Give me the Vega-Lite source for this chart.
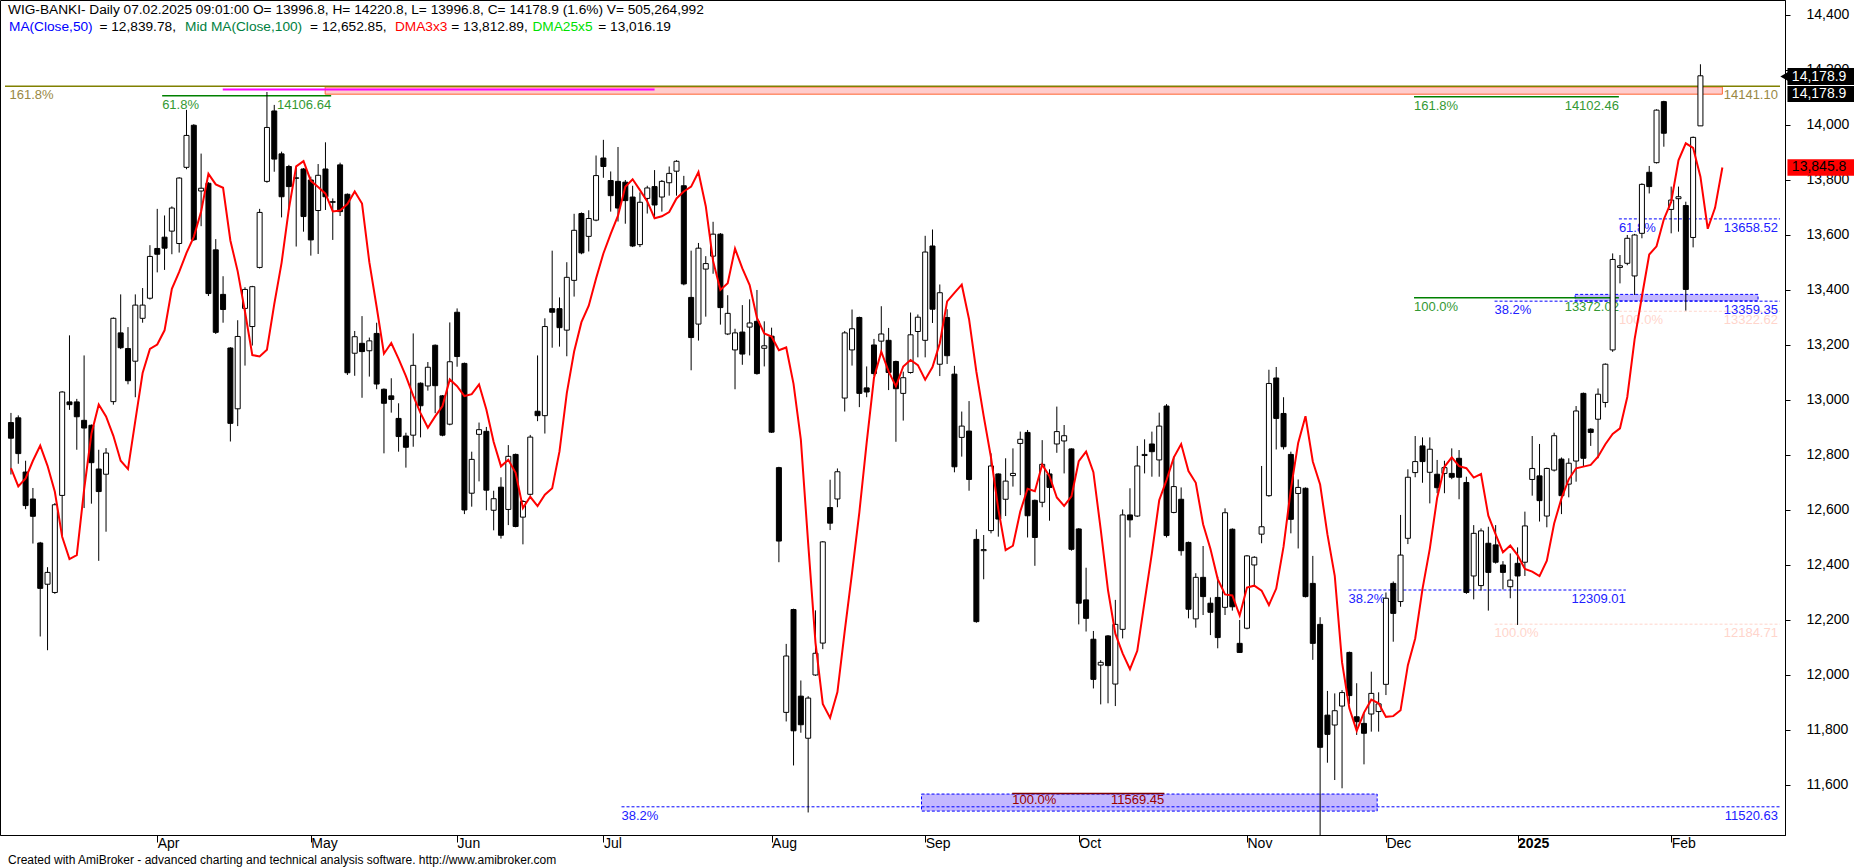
{
"$schema": "https://vega.github.io/schema/vega-lite/v6.json",
"width": 1785, "height": 835,
"autosize": {"type": "none"},
"padding": {"left": 0, "top": 0, "right": 69, "bottom": 33},
"background": "white",
"config": {
 "view": {"stroke": "#000000", "strokeWidth": 1},
 "font": "Liberation Sans",
 "text": {"font": "Liberation Sans", "fontSize": 13},
 "axis": {"labelFont": "Liberation Sans", "labelFontSize": 14, "labelColor": "#000000", "domainColor": "#000000", "tickColor": "#000000", "grid": false}
},
"datasets": {
"bars": [
{"i":0,"o":12918,"h":12953,"l":12729,"c":12861},
{"i":1,"o":12935,"h":12944,"l":12768,"c":12805},
{"i":2,"o":12738,"h":12779,"l":12603,"c":12616},
{"i":3,"o":12640,"h":12680,"l":12478,"c":12577},
{"i":4,"o":12480,"h":12484,"l":12140,"c":12315},
{"i":5,"o":12330,"h":12392,"l":12090,"c":12373},
{"i":6,"o":12300,"h":12625,"l":12295,"c":12619},
{"i":7,"o":12653,"h":13032,"l":12508,"c":13029},
{"i":8,"o":12993,"h":13235,"l":12964,"c":12983},
{"i":9,"o":12993,"h":13004,"l":12819,"c":12939},
{"i":10,"o":12926,"h":13162,"l":12607,"c":12898},
{"i":11,"o":12908,"h":12911,"l":12623,"c":12772},
{"i":12,"o":12749,"h":12819,"l":12415,"c":12667},
{"i":13,"o":12730,"h":12825,"l":12521,"c":12807},
{"i":14,"o":12994,"h":13300,"l":12983,"c":13297},
{"i":15,"o":13244,"h":13384,"l":13185,"c":13190},
{"i":16,"o":13187,"h":13265,"l":13057,"c":13070},
{"i":17,"o":13141,"h":13384,"l":13010,"c":13345},
{"i":18,"o":13297,"h":13407,"l":13281,"c":13345},
{"i":19,"o":13370,"h":13563,"l":13365,"c":13522},
{"i":20,"o":13551,"h":13695,"l":13464,"c":13530},
{"i":21,"o":13592,"h":13671,"l":13473,"c":13552},
{"i":22,"o":13614,"h":13704,"l":13530,"c":13698},
{"i":23,"o":13569,"h":13810,"l":13536,"c":13807},
{"i":24,"o":13846,"h":14055,"l":13839,"c":13962},
{"i":25,"o":13999,"h":14003,"l":13578,"c":13583},
{"i":26,"o":13760,"h":13896,"l":13632,"c":13770},
{"i":27,"o":13788,"h":13792,"l":13378,"c":13387},
{"i":28,"o":13546,"h":13585,"l":13240,"c":13246},
{"i":29,"o":13384,"h":13450,"l":13281,"c":13329},
{"i":30,"o":13189,"h":13192,"l":12849,"c":12915},
{"i":31,"o":12968,"h":13290,"l":12905,"c":13231},
{"i":32,"o":13333,"h":13410,"l":13125,"c":13402},
{"i":33,"o":13267,"h":13415,"l":13198,"c":13412},
{"i":34,"o":13482,"h":13695,"l":13478,"c":13682},
{"i":35,"o":13795,"h":14120,"l":13790,"c":13991},
{"i":36,"o":14051,"h":14073,"l":13830,"c":13876},
{"i":37,"o":13895,"h":13903,"l":13664,"c":13739},
{"i":38,"o":13849,"h":13855,"l":13691,"c":13776},
{"i":39,"o":13806,"h":13849,"l":13558,"c":13808},
{"i":40,"o":13840,"h":13843,"l":13612,"c":13667},
{"i":41,"o":13800,"h":13812,"l":13525,"c":13582},
{"i":42,"o":13689,"h":13858,"l":13531,"c":13817},
{"i":43,"o":13840,"h":13937,"l":13691,"c":13739},
{"i":44,"o":13721,"h":13733,"l":13582,"c":13719},
{"i":45,"o":13855,"h":13863,"l":13669,"c":13685},
{"i":46,"o":13748,"h":13751,"l":13091,"c":13099},
{"i":47,"o":13170,"h":13251,"l":13088,"c":13230},
{"i":48,"o":13206,"h":13305,"l":13008,"c":13176},
{"i":49,"o":13179,"h":13227,"l":13085,"c":13215},
{"i":50,"o":13242,"h":13281,"l":13039,"c":13058},
{"i":51,"o":13039,"h":13042,"l":12806,"c":12988},
{"i":52,"o":13015,"h":13079,"l":12954,"c":13002},
{"i":53,"o":12933,"h":12988,"l":12812,"c":12867},
{"i":54,"o":12869,"h":12881,"l":12754,"c":12828},
{"i":55,"o":12872,"h":13242,"l":12830,"c":13126},
{"i":56,"o":13061,"h":13064,"l":12864,"c":12979},
{"i":57,"o":13051,"h":13138,"l":13034,"c":13119},
{"i":58,"o":13199,"h":13202,"l":12952,"c":13052},
{"i":59,"o":13015,"h":13018,"l":12868,"c":12872},
{"i":60,"o":12912,"h":13282,"l":12908,"c":13139},
{"i":61,"o":13319,"h":13333,"l":13121,"c":13158},
{"i":62,"o":13133,"h":13136,"l":12585,"c":12600},
{"i":63,"o":12661,"h":12812,"l":12612,"c":12784},
{"i":64,"o":12875,"h":12918,"l":12704,"c":12892},
{"i":65,"o":12886,"h":12902,"l":12599,"c":12672},
{"i":66,"o":12599,"h":12670,"l":12526,"c":12641},
{"i":67,"o":12683,"h":12719,"l":12496,"c":12508},
{"i":68,"o":12602,"h":12836,"l":12545,"c":12795},
{"i":69,"o":12802,"h":12805,"l":12537,"c":12540},
{"i":70,"o":12574,"h":12636,"l":12475,"c":12631},
{"i":71,"o":12657,"h":12873,"l":12652,"c":12865},
{"i":72,"o":12959,"h":13162,"l":12923,"c":12943},
{"i":73,"o":12943,"h":13297,"l":12878,"c":13267},
{"i":74,"o":13332,"h":13543,"l":13190,"c":13319},
{"i":75,"o":13332,"h":13373,"l":13194,"c":13263},
{"i":76,"o":13254,"h":13501,"l":13159,"c":13446},
{"i":77,"o":13435,"h":13677,"l":13376,"c":13617},
{"i":78,"o":13678,"h":13682,"l":13530,"c":13535},
{"i":79,"o":13595,"h":13690,"l":13540,"c":13660},
{"i":80,"o":13654,"h":13889,"l":13650,"c":13816},
{"i":81,"o":13880,"h":13946,"l":13808,"c":13849},
{"i":82,"o":13798,"h":13831,"l":13685,"c":13743},
{"i":83,"o":13795,"h":13920,"l":13649,"c":13698},
{"i":84,"o":13792,"h":13800,"l":13641,"c":13725},
{"i":85,"o":13738,"h":13779,"l":13556,"c":13560},
{"i":86,"o":13565,"h":13755,"l":13556,"c":13719},
{"i":87,"o":13733,"h":13779,"l":13678,"c":13771},
{"i":88,"o":13776,"h":13836,"l":13665,"c":13709},
{"i":89,"o":13738,"h":13800,"l":13685,"c":13795},
{"i":90,"o":13790,"h":13849,"l":13743,"c":13824},
{"i":91,"o":13832,"h":13872,"l":13743,"c":13868},
{"i":92,"o":13779,"h":13815,"l":13417,"c":13422},
{"i":93,"o":13373,"h":13543,"l":13108,"c":13227},
{"i":94,"o":13276,"h":13571,"l":13216,"c":13552},
{"i":95,"o":13476,"h":13523,"l":13303,"c":13496},
{"i":96,"o":13523,"h":13648,"l":13459,"c":13603},
{"i":97,"o":13603,"h":13607,"l":13274,"c":13336},
{"i":98,"o":13240,"h":13381,"l":13236,"c":13315},
{"i":99,"o":13182,"h":13259,"l":13039,"c":13244},
{"i":100,"o":13247,"h":13345,"l":13128,"c":13167},
{"i":101,"o":13265,"h":13366,"l":13162,"c":13280},
{"i":102,"o":13286,"h":13400,"l":13092,"c":13096},
{"i":103,"o":13188,"h":13286,"l":13122,"c":13197},
{"i":104,"o":13232,"h":13263,"l":12880,"c":12883},
{"i":105,"o":12754,"h":12757,"l":12410,"c":12487},
{"i":106,"o":11864,"h":12113,"l":11831,"c":12069},
{"i":107,"o":12238,"h":12241,"l":11671,"c":11797},
{"i":108,"o":11923,"h":11980,"l":11790,"c":11819},
{"i":109,"o":11770,"h":11923,"l":11500,"c":11916},
{"i":110,"o":12000,"h":12235,"l":11997,"c":12079},
{"i":111,"o":12116,"h":12487,"l":12094,"c":12484},
{"i":112,"o":12609,"h":12710,"l":12527,"c":12552},
{"i":113,"o":12640,"h":12751,"l":12610,"c":12739},
{"i":114,"o":13007,"h":13251,"l":12958,"c":13244},
{"i":115,"o":13182,"h":13329,"l":13125,"c":13259},
{"i":116,"o":13300,"h":13303,"l":12974,"c":13024},
{"i":117,"o":13044,"h":13122,"l":13010,"c":13029},
{"i":118,"o":13200,"h":13222,"l":13088,"c":13096},
{"i":119,"o":13214,"h":13341,"l":13170,"c":13240},
{"i":120,"o":13217,"h":13262,"l":13036,"c":13100},
{"i":121,"o":13140,"h":13143,"l":12848,"c":13041},
{"i":122,"o":13024,"h":13103,"l":12925,"c":13081},
{"i":123,"o":13100,"h":13318,"l":13096,"c":13237},
{"i":124,"o":13249,"h":13311,"l":13155,"c":13301},
{"i":125,"o":13217,"h":13597,"l":13155,"c":13538},
{"i":126,"o":13560,"h":13620,"l":13280,"c":13330},
{"i":127,"o":13130,"h":13420,"l":13087,"c":13390},
{"i":128,"o":13300,"h":13330,"l":13131,"c":13161},
{"i":129,"o":13094,"h":13124,"l":12737,"c":12757},
{"i":130,"o":12864,"h":12958,"l":12794,"c":12905},
{"i":131,"o":12887,"h":12996,"l":12670,"c":12711},
{"i":132,"o":12493,"h":12530,"l":12190,"c":12194},
{"i":133,"o":12452,"h":12509,"l":12348,"c":12456},
{"i":134,"o":12525,"h":12806,"l":12515,"c":12760},
{"i":135,"o":12731,"h":12733,"l":12503,"c":12567},
{"i":136,"o":12639,"h":12788,"l":12578,"c":12705},
{"i":137,"o":12725,"h":12824,"l":12685,"c":12733},
{"i":138,"o":12842,"h":12885,"l":12654,"c":12857},
{"i":139,"o":12882,"h":12891,"l":12500,"c":12579},
{"i":140,"o":12635,"h":12638,"l":12397,"c":12500},
{"i":141,"o":12628,"h":12854,"l":12610,"c":12766},
{"i":142,"o":12731,"h":12748,"l":12561,"c":12682},
{"i":143,"o":12840,"h":12976,"l":12808,"c":12885},
{"i":144,"o":12851,"h":12909,"l":12733,"c":12870},
{"i":145,"o":12822,"h":12824,"l":12452,"c":12457},
{"i":146,"o":12531,"h":12534,"l":12184,"c":12261},
{"i":147,"o":12273,"h":12390,"l":12158,"c":12206},
{"i":148,"o":12130,"h":12160,"l":11951,"c":11984},
{"i":149,"o":12036,"h":12054,"l":11893,"c":12046},
{"i":150,"o":12142,"h":12145,"l":11897,"c":12034},
{"i":151,"o":11967,"h":12273,"l":11887,"c":12184},
{"i":152,"o":12166,"h":12602,"l":12133,"c":12582},
{"i":153,"o":12582,"h":12679,"l":12500,"c":12564},
{"i":154,"o":12578,"h":12833,"l":12575,"c":12760},
{"i":155,"o":12798,"h":12857,"l":12733,"c":12802},
{"i":156,"o":12840,"h":12885,"l":12721,"c":12812},
{"i":157,"o":12782,"h":12954,"l":12721,"c":12905},
{"i":158,"o":12978,"h":12985,"l":12500,"c":12507},
{"i":159,"o":12591,"h":12794,"l":12588,"c":12685},
{"i":160,"o":12639,"h":12682,"l":12434,"c":12452},
{"i":161,"o":12482,"h":12485,"l":12206,"c":12239},
{"i":162,"o":12204,"h":12370,"l":12172,"c":12355},
{"i":163,"o":12355,"h":12469,"l":12218,"c":12285},
{"i":164,"o":12261,"h":12282,"l":12145,"c":12228},
{"i":165,"o":12282,"h":12357,"l":12097,"c":12136},
{"i":166,"o":12246,"h":12606,"l":12218,"c":12590},
{"i":167,"o":12530,"h":12533,"l":12234,"c":12248},
{"i":168,"o":12115,"h":12200,"l":12080,"c":12082},
{"i":169,"o":12170,"h":12436,"l":12166,"c":12433},
{"i":170,"o":12400,"h":12432,"l":12327,"c":12428},
{"i":171,"o":12512,"h":12760,"l":12479,"c":12539},
{"i":172,"o":12652,"h":13110,"l":12648,"c":13060},
{"i":173,"o":13080,"h":13120,"l":12820,"c":12933},
{"i":174,"o":12951,"h":13010,"l":12820,"c":12830},
{"i":175,"o":12802,"h":12812,"l":12515,"c":12566},
{"i":176,"o":12660,"h":12711,"l":12460,"c":12682},
{"i":177,"o":12679,"h":12682,"l":12282,"c":12285},
{"i":178,"o":12333,"h":12433,"l":12055,"c":12115},
{"i":179,"o":12184,"h":12210,"l":11418,"c":11737},
{"i":180,"o":11854,"h":11942,"l":11681,"c":11784},
{"i":181,"o":11818,"h":11933,"l":11618,"c":11870},
{"i":182,"o":11887,"h":11945,"l":11588,"c":11936},
{"i":183,"o":12082,"h":12085,"l":11894,"c":11925},
{"i":184,"o":11848,"h":11970,"l":11782,"c":11830},
{"i":185,"o":11824,"h":11861,"l":11675,"c":11788},
{"i":186,"o":11858,"h":12012,"l":11794,"c":11933},
{"i":187,"o":11867,"h":11937,"l":11794,"c":11895},
{"i":188,"o":11966,"h":12300,"l":11927,"c":12279},
{"i":189,"o":12333,"h":12340,"l":12121,"c":12224},
{"i":190,"o":12267,"h":12582,"l":12248,"c":12436},
{"i":191,"o":12497,"h":12748,"l":12476,"c":12719},
{"i":192,"o":12736,"h":12869,"l":12719,"c":12776},
{"i":193,"o":12833,"h":12864,"l":12699,"c":12776},
{"i":194,"o":12737,"h":12864,"l":12624,"c":12821},
{"i":195,"o":12730,"h":12782,"l":12661,"c":12681},
{"i":196,"o":12733,"h":12779,"l":12661,"c":12754},
{"i":197,"o":12733,"h":12824,"l":12712,"c":12719},
{"i":198,"o":12788,"h":12818,"l":12639,"c":12719},
{"i":199,"o":12700,"h":12721,"l":12295,"c":12300},
{"i":200,"o":12360,"h":12545,"l":12275,"c":12515},
{"i":201,"o":12325,"h":12533,"l":12307,"c":12524},
{"i":202,"o":12479,"h":12539,"l":12234,"c":12373},
{"i":203,"o":12473,"h":12545,"l":12405,"c":12410},
{"i":204,"o":12400,"h":12414,"l":12311,"c":12373},
{"i":205,"o":12321,"h":12442,"l":12279,"c":12345},
{"i":206,"o":12406,"h":12464,"l":12182,"c":12360},
{"i":207,"o":12410,"h":12594,"l":12360,"c":12542},
{"i":208,"o":12711,"h":12869,"l":12652,"c":12751},
{"i":209,"o":12724,"h":12840,"l":12558,"c":12634},
{"i":210,"o":12578,"h":12754,"l":12537,"c":12751},
{"i":211,"o":12745,"h":12881,"l":12740,"c":12870},
{"i":212,"o":12785,"h":12791,"l":12585,"c":12652},
{"i":213,"o":12694,"h":12788,"l":12646,"c":12770},
{"i":214,"o":12778,"h":12978,"l":12703,"c":12960},
{"i":215,"o":13024,"h":13027,"l":12757,"c":12788},
{"i":216,"o":12894,"h":12897,"l":12833,"c":12882},
{"i":217,"o":12930,"h":13042,"l":12788,"c":13021},
{"i":218,"o":12991,"h":13133,"l":12973,"c":13130},
{"i":219,"o":13182,"h":13533,"l":13175,"c":13511},
{"i":220,"o":13482,"h":13527,"l":13424,"c":13488},
{"i":221,"o":13497,"h":13600,"l":13490,"c":13588},
{"i":222,"o":13451,"h":13604,"l":13382,"c":13600},
{"i":223,"o":13606,"h":13788,"l":13588,"c":13784},
{"i":224,"o":13828,"h":13851,"l":13751,"c":13776},
{"i":225,"o":13863,"h":14057,"l":13860,"c":14054},
{"i":226,"o":14085,"h":14088,"l":13921,"c":13970},
{"i":227,"o":13693,"h":13776,"l":13606,"c":13727},
{"i":228,"o":13732,"h":13776,"l":13612,"c":13739},
{"i":229,"o":13707,"h":13721,"l":13325,"c":13402},
{"i":230,"o":13591,"h":13958,"l":13555,"c":13955},
{"i":231,"o":13996.8,"h":14220.8,"l":13996.8,"c":14178.9}
],
"dma": [
{"i":0,"v":12752},{"i":1,"v":12686},{"i":2,"v":12715},{"i":3,"v":12779},{"i":4,"v":12834},
{"i":5,"v":12760.7},{"i":6,"v":12666.0},{"i":7,"v":12502.7},{"i":8,"v":12421.7},{"i":9,"v":12435.7},
{"i":10,"v":12673.7},{"i":11,"v":12877.0},{"i":12,"v":12983.7},{"i":13,"v":12940.0},{"i":14,"v":12869.7},
{"i":15,"v":12779.0},{"i":16,"v":12748.7},{"i":17,"v":12923.7},{"i":18,"v":13098.0},{"i":19,"v":13185.7},
{"i":20,"v":13201.7},{"i":21,"v":13253.3},{"i":22,"v":13404.0},{"i":23,"v":13465.7},{"i":24,"v":13534.7},
{"i":25,"v":13593.3},{"i":26,"v":13685.7},{"i":27,"v":13822.3},{"i":28,"v":13784.0},{"i":29,"v":13771.7},
{"i":30,"v":13580.0},{"i":31,"v":13467.7},{"i":32,"v":13320.7},{"i":33,"v":13163.3},{"i":34,"v":13158.3},
{"i":35,"v":13182.7},{"i":36,"v":13348.3},{"i":37,"v":13498.7},{"i":38,"v":13695.0},{"i":39,"v":13849.7},
{"i":40,"v":13868.7},{"i":41,"v":13797.0},{"i":42,"v":13774.3},{"i":43,"v":13750.3},{"i":44,"v":13685.7},
{"i":45,"v":13688.7},{"i":46,"v":13712.7},{"i":47,"v":13758.3},{"i":48,"v":13714.3},{"i":49,"v":13501.0},
{"i":50,"v":13338.0},{"i":51,"v":13168.3},{"i":52,"v":13207.0},{"i":53,"v":13149.7},{"i":54,"v":13087.0},
{"i":55,"v":13016.0},{"i":56,"v":12952.3},{"i":57,"v":12899.0},{"i":58,"v":12940.3},{"i":59,"v":12977.7},
{"i":60,"v":13074.7},{"i":61,"v":13050.0},{"i":62,"v":13014.3},{"i":63,"v":13021.0},{"i":64,"v":13056.3},
{"i":65,"v":12965.7},{"i":66,"v":12847.3},{"i":67,"v":12758.7},{"i":68,"v":12782.7},{"i":69,"v":12735.0},
{"i":70,"v":12607.0},{"i":71,"v":12648.0},{"i":72,"v":12614.3},{"i":73,"v":12655.3},{"i":74,"v":12678.7},
{"i":75,"v":12813.0},{"i":76,"v":13025.0},{"i":77,"v":13176.3},{"i":78,"v":13283.0},{"i":79,"v":13342.7},
{"i":80,"v":13442.0},{"i":81,"v":13532.7},{"i":82,"v":13604.0},{"i":83,"v":13670.3},{"i":84,"v":13775.0},
{"i":85,"v":13802.7},{"i":86,"v":13763.3},{"i":87,"v":13722.0},{"i":88,"v":13661.0},{"i":89,"v":13668.0},
{"i":90,"v":13683.3},{"i":91,"v":13733.0},{"i":92,"v":13758.3},{"i":93,"v":13776.0},{"i":94,"v":13829.0},
{"i":95,"v":13704.7},{"i":96,"v":13505.7},{"i":97,"v":13400.3},{"i":98,"v":13425.0},{"i":99,"v":13550.3},
{"i":100,"v":13478.3},{"i":101,"v":13418.0},{"i":102,"v":13298.3},{"i":103,"v":13242.0},{"i":104,"v":13230.3},
{"i":105,"v":13181.0},{"i":106,"v":13191.0},{"i":107,"v":13058.7},{"i":108,"v":12855.7},{"i":109,"v":12479.7},
{"i":110,"v":12117.7},{"i":111,"v":11895.0},{"i":112,"v":11844.0},{"i":113,"v":11938.0},{"i":114,"v":12159.7},
{"i":115,"v":12371.7},{"i":116,"v":12591.7},{"i":117,"v":12845.0},{"i":118,"v":13080.7},{"i":119,"v":13175.7},
{"i":120,"v":13104.0},{"i":121,"v":13049.7},{"i":122,"v":13121.7},{"i":123,"v":13145.3},{"i":124,"v":13127.0},
{"i":125,"v":13074.0},{"i":126,"v":13119.7},{"i":127,"v":13206.3},{"i":128,"v":13358.7},{"i":129,"v":13389.7},
{"i":130,"v":13419.3},{"i":131,"v":13293.7},{"i":132,"v":13102.7},{"i":133,"v":12941.0},{"i":134,"v":12791.0},
{"i":135,"v":12603.3},{"i":136,"v":12453.7},{"i":137,"v":12470.0},{"i":138,"v":12594.3},{"i":139,"v":12677.3},
{"i":140,"v":12668.3},{"i":141,"v":12765.0},{"i":142,"v":12723.0},{"i":143,"v":12645.3},{"i":144,"v":12615.0},
{"i":145,"v":12649.3},{"i":146,"v":12777.7},{"i":147,"v":12812.3},{"i":148,"v":12737.3},{"i":149,"v":12529.3},
{"i":150,"v":12308.0},{"i":151,"v":12150.3},{"i":152,"v":12078.7},{"i":153,"v":12021.3},{"i":154,"v":12088.0},
{"i":155,"v":12266.7},{"i":156,"v":12443.3},{"i":157,"v":12635.3},{"i":158,"v":12708.7},{"i":159,"v":12791.3},
{"i":160,"v":12839.7},{"i":161,"v":12741.3},{"i":162,"v":12699.0},{"i":163,"v":12548.0},{"i":164,"v":12458.7},
{"i":165,"v":12348.7},{"i":166,"v":12293.0},{"i":167,"v":12289.3},{"i":168,"v":12216.3},{"i":169,"v":12318.0},
{"i":170,"v":12324.7},{"i":171,"v":12306.7},{"i":172,"v":12254.3},{"i":173,"v":12314.3},{"i":174,"v":12466.7},
{"i":175,"v":12675.7},{"i":176,"v":12844.0},{"i":177,"v":12941.0},{"i":178,"v":12776.3},{"i":179,"v":12692.7},
{"i":180,"v":12511.0},{"i":181,"v":12360.7},{"i":182,"v":12045.7},{"i":183,"v":11878.7},{"i":184,"v":11797.0},
{"i":185,"v":11863.3},{"i":186,"v":11910.3},{"i":187,"v":11897.0},{"i":188,"v":11847.7},{"i":189,"v":11850.3},
{"i":190,"v":11872.0},{"i":191,"v":12035.7},{"i":192,"v":12132.7},{"i":193,"v":12313.0},{"i":194,"v":12459.7},
{"i":195,"v":12643.7},{"i":196,"v":12757.0},{"i":197,"v":12791.0},{"i":198,"v":12759.3},{"i":199,"v":12752.0},
{"i":200,"v":12718.0},{"i":201,"v":12730.7},{"i":202,"v":12579.3},{"i":203,"v":12511.3},{"i":204,"v":12446.3},
{"i":205,"v":12470.7},{"i":206,"v":12435.7},{"i":207,"v":12385.3},{"i":208,"v":12376.0},{"i":209,"v":12359.3},
{"i":210,"v":12415.7},{"i":211,"v":12551.0},{"i":212,"v":12642.3},{"i":213,"v":12712.0},{"i":214,"v":12751.7},
{"i":215,"v":12757.7},{"i":216,"v":12764.0},{"i":217,"v":12794.0},{"i":218,"v":12839.3},{"i":219,"v":12876.7},
{"i":220,"v":12897.0},{"i":221,"v":13011.0},{"i":222,"v":13220.7},{"i":223,"v":13376.3},{"i":224,"v":13529.0},
{"i":225,"v":13558.7},{"i":226,"v":13657.3},{"i":227,"v":13720.0},{"i":228,"v":13871.3},{"i":229,"v":13933.3},
{"i":230,"v":13917.0},{"i":231,"v":13812.0},{"i":232,"v":13622.7},{"i":233,"v":13698.7},{"i":234,"v":13845.3}
]
},
"layer": [
{"data": {"name": "bars"},
 "mark": {"type": "rule", "color": "#000000", "strokeWidth": 1, "opacity": 0},
 "encoding": {
  "x": {"field": "i", "type": "quantitative", "scale": {"domain": [-0.816, 241.88], "nice": false, "zero": false},
   "axis": {"orient": "bottom", "title": null, "values": [20,41,61,81,104,125,146,169,188,206,227],
    "labelExpr": "datum.value==20?'Apr':datum.value==41?'May':datum.value==61?'Jun':datum.value==81?'Jul':datum.value==104?'Aug':datum.value==125?'Sep':datum.value==146?'Oct':datum.value==169?'Nov':datum.value==188?'Dec':datum.value==206?'2025':'Feb'",
    "labelAlign": "left", "labelBaseline": "top", "labelPadding": -6, "labelDx": 2, "tickSize": 7,
    "labelFlush": false, "labelOverlap": false, "labelBound": false,
    "labelFontWeight": {"condition": {"test": "datum.value == 206", "value": "bold"}, "value": "normal"}}},
  "y": {"field": "l", "type": "quantitative", "scale": {"domain": [11418.1, 14454.5], "nice": false, "zero": false},
   "axis": {"orient": "right", "title": null, "values": [11600,11800,12000,12200,12400,12600,12800,13000,13200,13400,13600,13800,14000,14200,14400],
    "labelExpr": "format(datum.value, ',.0f')", "tickSize": 5, "labelPadding": 16, "labelAlign": "left", "labelBaseline": "middle", "labelFlush": false, "labelOverlap": false, "labelBound": false}},
  "y2": {"field": "h"}
 }},
{"data": {"values": [{}]}, "mark": {"type": "rect", "fill": "#FFCCCC", "stroke": "#FF6633", "strokeWidth": 1},
 "encoding": {"x": {"datum": 42.96}, "x2": {"datum": 234.0}, "y": {"datum": 14138}, "y2": {"datum": 14112}}},
{"data": {"values": [{}]}, "mark": {"type": "rect", "fill": "#C4B8FF", "stroke": "#0000FF", "strokeWidth": 1, "strokeDash": [3, 2]},
 "encoding": {"x": {"datum": 213.87}, "x2": {"datum": 238.88}, "y": {"datum": 13384}, "y2": {"datum": 13360}}},
{"data": {"values": [{}]}, "mark": {"type": "rect", "fill": "#C4B8FF", "stroke": "#0000FF", "strokeWidth": 1, "strokeDash": [3, 2]},
 "encoding": {"x": {"datum": 124.5}, "x2": {"datum": 186.8}, "y": {"datum": 11567}, "y2": {"datum": 11505}}},
{"data": {"values": [{}]}, "mark": {"type": "rule", "color": "#808000", "strokeWidth": 1.5},
 "encoding": {"x": {"datum": -0.816}, "x2": {"datum": 241.88}, "y": {"datum": 14141.1}}},
{"data": {"values": [{}]}, "mark": {"type": "rule", "color": "#FF00FF", "strokeWidth": 2},
 "encoding": {"x": {"datum": 28.96}, "x2": {"datum": 88.0}, "y": {"datum": 14129}}},
{"data": {"values": [{}]}, "mark": {"type": "rule", "color": "#008000", "strokeWidth": 1.5},
 "encoding": {"x": {"datum": 20.67}, "x2": {"datum": 43.78}, "y": {"datum": 14106.64}}},
{"data": {"values": [{}]}, "mark": {"type": "rule", "color": "#008000", "strokeWidth": 1.5},
 "encoding": {"x": {"datum": 191.84}, "x2": {"datum": 219.85}, "y": {"datum": 14102.46}}},
{"data": {"values": [{}]}, "mark": {"type": "rule", "color": "#008000", "strokeWidth": 1.5},
 "encoding": {"x": {"datum": 191.84}, "x2": {"datum": 219.85}, "y": {"datum": 13372.02}}},
{"data": {"values": [{}]}, "mark": {"type": "rule", "color": "#0000FF", "strokeWidth": 1, "strokeDash": [3, 2]},
 "encoding": {"x": {"datum": 202.85}, "x2": {"datum": 241.88}, "y": {"datum": 13359.35}}},
{"data": {"values": [{}]}, "mark": {"type": "rule", "color": "#0000FF", "strokeWidth": 1, "strokeDash": [3, 2]},
 "encoding": {"x": {"datum": 219.85}, "x2": {"datum": 241.88}, "y": {"datum": 13658.52}}},
{"data": {"values": [{}]}, "mark": {"type": "rule", "color": "#FFD5CC", "strokeWidth": 1, "strokeDash": [3, 2]},
 "encoding": {"x": {"datum": 219.85}, "x2": {"datum": 241.88}, "y": {"datum": 13322.62}}},
{"data": {"values": [{}]}, "mark": {"type": "rule", "color": "#0000FF", "strokeWidth": 1, "strokeDash": [3, 2]},
 "encoding": {"x": {"datum": 182.87}, "x2": {"datum": 220.8}, "y": {"datum": 12309.01}}},
{"data": {"values": [{}]}, "mark": {"type": "rule", "color": "#FFD5CC", "strokeWidth": 1, "strokeDash": [3, 2]},
 "encoding": {"x": {"datum": 202.85}, "x2": {"datum": 241.88}, "y": {"datum": 12184.71}}},
{"data": {"values": [{}]}, "mark": {"type": "rule", "color": "#0000FF", "strokeWidth": 1, "strokeDash": [3, 2]},
 "encoding": {"x": {"datum": 83.48}, "x2": {"datum": 241.88}, "y": {"datum": 11520.63}}},
{"data": {"values": [{}]}, "mark": {"type": "rule", "color": "#800000", "strokeWidth": 1.5},
 "encoding": {"x": {"datum": 136.9}, "x2": {"datum": 157.7}, "y": {"datum": 11569.45}}},
{"data": {"values": [{}]}, "mark": {"type": "text", "text": "161.8%", "color": "#998844", "align": "left", "baseline": "top", "dy": 3},
 "encoding": {"x": {"datum": -0.2}, "y": {"datum": 14141.1}}},
{"data": {"values": [{}]}, "mark": {"type": "text", "text": "14141.10", "color": "#998844", "align": "right", "baseline": "top", "dy": 3},
 "encoding": {"x": {"datum": 241.6}, "y": {"datum": 14141.1}}},
{"data": {"values": [{}]}, "mark": {"type": "text", "text": "61.8%", "color": "#339933", "align": "left", "baseline": "top", "dy": 3},
 "encoding": {"x": {"datum": 20.67}, "y": {"datum": 14106.64}}},
{"data": {"values": [{}]}, "mark": {"type": "text", "text": "14106.64", "color": "#339933", "align": "right", "baseline": "top", "dy": 3},
 "encoding": {"x": {"datum": 43.78}, "y": {"datum": 14106.64}}},
{"data": {"values": [{}]}, "mark": {"type": "text", "text": "161.8%", "color": "#339933", "align": "left", "baseline": "top", "dy": 3},
 "encoding": {"x": {"datum": 191.84}, "y": {"datum": 14102.46}}},
{"data": {"values": [{}]}, "mark": {"type": "text", "text": "14102.46", "color": "#339933", "align": "right", "baseline": "top", "dy": 3},
 "encoding": {"x": {"datum": 219.85}, "y": {"datum": 14102.46}}},
{"data": {"values": [{}]}, "mark": {"type": "text", "text": "100.0%", "color": "#339933", "align": "left", "baseline": "top", "dy": 3},
 "encoding": {"x": {"datum": 191.84}, "y": {"datum": 13372.02}}},
{"data": {"values": [{}]}, "mark": {"type": "text", "text": "13372.02", "color": "#339933", "align": "right", "baseline": "top", "dy": 3},
 "encoding": {"x": {"datum": 219.85}, "y": {"datum": 13372.02}}},
{"data": {"values": [{}]}, "mark": {"type": "text", "text": "38.2%", "color": "#2020FF", "align": "left", "baseline": "top", "dy": 3},
 "encoding": {"x": {"datum": 202.85}, "y": {"datum": 13359.35}}},
{"data": {"values": [{}]}, "mark": {"type": "text", "text": "13359.35", "color": "#2020FF", "align": "right", "baseline": "top", "dy": 3},
 "encoding": {"x": {"datum": 241.6}, "y": {"datum": 13359.35}}},
{"data": {"values": [{}]}, "mark": {"type": "text", "text": "61.8%", "color": "#2020FF", "align": "left", "baseline": "top", "dy": 3},
 "encoding": {"x": {"datum": 219.85}, "y": {"datum": 13658.52}}},
{"data": {"values": [{}]}, "mark": {"type": "text", "text": "13658.52", "color": "#2020FF", "align": "right", "baseline": "top", "dy": 3},
 "encoding": {"x": {"datum": 241.6}, "y": {"datum": 13658.52}}},
{"data": {"values": [{}]}, "mark": {"type": "text", "text": "100.0%", "color": "#FFD5CC", "align": "left", "baseline": "top", "dy": 3},
 "encoding": {"x": {"datum": 219.85}, "y": {"datum": 13322.62}}},
{"data": {"values": [{}]}, "mark": {"type": "text", "text": "13322.62", "color": "#FFD5CC", "align": "right", "baseline": "top", "dy": 3},
 "encoding": {"x": {"datum": 241.6}, "y": {"datum": 13322.62}}},
{"data": {"values": [{}]}, "mark": {"type": "text", "text": "38.2%", "color": "#2020FF", "align": "left", "baseline": "top", "dy": 3},
 "encoding": {"x": {"datum": 182.87}, "y": {"datum": 12309.01}}},
{"data": {"values": [{}]}, "mark": {"type": "text", "text": "12309.01", "color": "#2020FF", "align": "right", "baseline": "top", "dy": 3},
 "encoding": {"x": {"datum": 220.8}, "y": {"datum": 12309.01}}},
{"data": {"values": [{}]}, "mark": {"type": "text", "text": "100.0%", "color": "#FFD5CC", "align": "left", "baseline": "top", "dy": 3},
 "encoding": {"x": {"datum": 202.85}, "y": {"datum": 12184.71}}},
{"data": {"values": [{}]}, "mark": {"type": "text", "text": "12184.71", "color": "#FFD5CC", "align": "right", "baseline": "top", "dy": 3},
 "encoding": {"x": {"datum": 241.6}, "y": {"datum": 12184.71}}},
{"data": {"values": [{}]}, "mark": {"type": "text", "text": "38.2%", "color": "#2020FF", "align": "left", "baseline": "top", "dy": 3},
 "encoding": {"x": {"datum": 83.48}, "y": {"datum": 11520.63}}},
{"data": {"values": [{}]}, "mark": {"type": "text", "text": "11520.63", "color": "#2020FF", "align": "right", "baseline": "top", "dy": 3},
 "encoding": {"x": {"datum": 241.6}, "y": {"datum": 11520.63}}},
{"data": {"values": [{}]}, "mark": {"type": "text", "text": "100.0%", "color": "#990000", "align": "left", "baseline": "top", "dy": 1},
 "encoding": {"x": {"datum": 136.9}, "y": {"datum": 11569.45}}},
{"data": {"values": [{}]}, "mark": {"type": "text", "text": "11569.45", "color": "#990000", "align": "right", "baseline": "top", "dy": 1},
 "encoding": {"x": {"datum": 157.7}, "y": {"datum": 11569.45}}},
{"data": {"name": "bars"},
 "mark": {"type": "rule", "color": "#000000", "strokeWidth": 1},
 "encoding": {"x": {"field": "i", "type": "quantitative"}, "y": {"field": "l", "type": "quantitative"}, "y2": {"field": "h"}}},
{"data": {"name": "bars"},
 "mark": {"type": "bar", "size": 5, "stroke": "#000000", "strokeWidth": 1},
 "encoding": {
  "x": {"field": "i", "type": "quantitative"},
  "y": {"field": "o", "type": "quantitative"},
  "y2": {"field": "c"},
  "fill": {"condition": {"test": "datum.c >= datum.o", "value": "#FFFFFF"}, "value": "#000000"}
 }},
{"data": {"name": "dma"},
 "mark": {"type": "line", "color": "#FF0000", "strokeWidth": 2},
 "encoding": {"x": {"field": "i", "type": "quantitative"}, "y": {"field": "v", "type": "quantitative"}}},
{"data": {"values": [{}]}, "mark": {"type": "rect", "fill": "#000000"},
 "encoding": {"x": {"datum": 242.9}, "x2": {"datum": 252.5}, "y": {"datum": 14207}, "y2": {"datum": 14145.4}}},
{"data": {"values": [{}]}, "mark": {"type": "point", "shape": "triangle-left", "filled": true, "color": "#000000", "size": 110, "opacity": 1},
 "encoding": {"x": {"datum": 242.55}, "y": {"datum": 14176}}},
{"data": {"values": [{}]}, "mark": {"type": "rect", "fill": "#000000"},
 "encoding": {"x": {"datum": 242.9}, "x2": {"datum": 252.5}, "y": {"datum": 14141.5}, "y2": {"datum": 14083.6}}},
{"data": {"values": [{}]}, "mark": {"type": "rect", "fill": "#FF0000"},
 "encoding": {"x": {"datum": 242.9}, "x2": {"datum": 252.5}, "y": {"datum": 13875.5}, "y2": {"datum": 13815.5}}},
{"data": {"values": [{}]}, "mark": {"type": "text", "text": "14,178.9", "color": "#FFFFFF", "fontSize": 14, "align": "left", "baseline": "middle"},
 "encoding": {"x": {"datum": 243.5}, "y": {"datum": 14176}}},
{"data": {"values": [{}]}, "mark": {"type": "text", "text": "14,178.9", "color": "#FFFFFF", "fontSize": 14, "align": "left", "baseline": "middle"},
 "encoding": {"x": {"datum": 243.5}, "y": {"datum": 14112.5}}},
{"data": {"values": [{}]}, "mark": {"type": "text", "text": "13,845.8", "color": "#000000", "fontSize": 14, "align": "left", "baseline": "middle"},
 "encoding": {"x": {"datum": 243.5}, "y": {"datum": 13845.8}}},
{"data": {"values": [{}]}, "mark": {"type": "text", "text": "WIG-BANKI- Daily 07.02.2025 09:01:00 O= 13996.8, H= 14220.8, L= 13996.8, C= 14178.9 (1.6%) V= 505,264,992", "color": "#000000", "fontSize": 13.7, "align": "left", "baseline": "middle"},
 "encoding": {"x": {"datum": -0.41}, "y": {"datum": 14418}}},
{"data": {"values": [{}]}, "mark": {"type": "text", "text": "MA(Close,50)", "color": "#0000FF", "fontSize": 13.7, "align": "left", "baseline": "middle"},
 "encoding": {"x": {"datum": -0.27}, "y": {"datum": 14358}}},
{"data": {"values": [{}]}, "mark": {"type": "text", "text": "= 12,839.78,", "color": "#000000", "fontSize": 13.7, "align": "left", "baseline": "middle"},
 "encoding": {"x": {"datum": 12.1}, "y": {"datum": 14358}}},
{"data": {"values": [{}]}, "mark": {"type": "text", "text": "Mid MA(Close,100)", "color": "#008040", "fontSize": 13.7, "align": "left", "baseline": "middle"},
 "encoding": {"x": {"datum": 23.8}, "y": {"datum": 14358}}},
{"data": {"values": [{}]}, "mark": {"type": "text", "text": "= 12,652.85,", "color": "#000000", "fontSize": 13.7, "align": "left", "baseline": "middle"},
 "encoding": {"x": {"datum": 40.9}, "y": {"datum": 14358}}},
{"data": {"values": [{}]}, "mark": {"type": "text", "text": "DMA3x3", "color": "#FF0000", "fontSize": 13.7, "align": "left", "baseline": "middle"},
 "encoding": {"x": {"datum": 52.5}, "y": {"datum": 14358}}},
{"data": {"values": [{}]}, "mark": {"type": "text", "text": "= 13,812.89,", "color": "#000000", "fontSize": 13.7, "align": "left", "baseline": "middle"},
 "encoding": {"x": {"datum": 60.2}, "y": {"datum": 14358}}},
{"data": {"values": [{}]}, "mark": {"type": "text", "text": "DMA25x5", "color": "#00E000", "fontSize": 13.7, "align": "left", "baseline": "middle"},
 "encoding": {"x": {"datum": 71.3}, "y": {"datum": 14358}}},
{"data": {"values": [{}]}, "mark": {"type": "text", "text": "= 13,016.19", "color": "#000000", "fontSize": 13.7, "align": "left", "baseline": "middle"},
 "encoding": {"x": {"datum": 80.3}, "y": {"datum": 14358}}},
{"data": {"values": [{}]}, "mark": {"type": "text", "text": "Created with AmiBroker - advanced charting and technical analysis software. http://www.amibroker.com", "color": "#000000", "fontSize": 12, "align": "left", "baseline": "middle"},
 "encoding": {"x": {"datum": -0.41}, "y": {"datum": 11327}}}
]
}
